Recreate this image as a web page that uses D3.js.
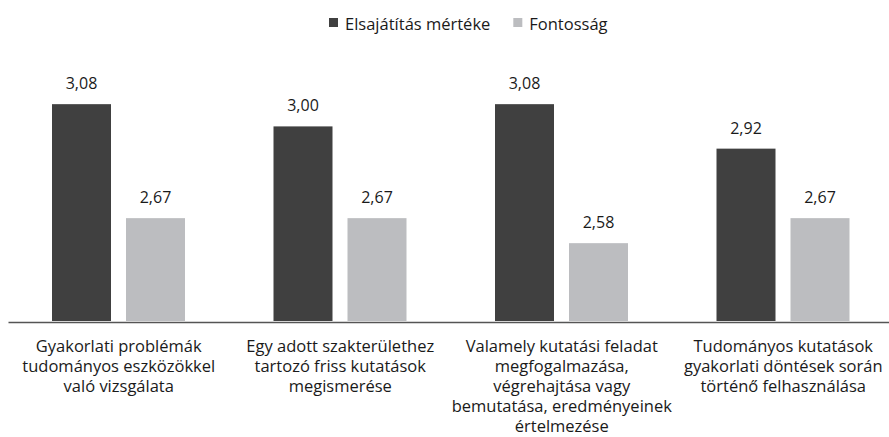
<!DOCTYPE html>
<html>
<head>
<meta charset="utf-8">
<script src="https://cdn.jsdelivr.net/npm/d3@7"></script>
<style>
  body { margin: 0; background: #fff; }
  svg text { font-family: "Open Sans", "Noto Sans", sans-serif; fill: #1a1a1a; }
</style>
</head>
<body>
<svg id="chart" width="889" height="437"></svg>
<script>
// Category labels, already split into lines as in the original.
var categories = [
  ["Gyakorlati problémák", "tudományos eszközökkel", "való vizsgálata"],
  ["Egy adott szakterülethez", "tartozó friss kutatások", "megismerése"],
  ["Valamely kutatási feladat", "megfogalmazása,", "végrehajtása vagy", "bemutatása, eredményeinek", "értelmezése"],
  ["Tudományos kutatások", "gyakorlati döntések során", "történő felhasználása"]
];
var seriesNames = ["Elsajátítás mértéke", "Fontosság"];
var mastery = [3.08, 3.00, 3.08, 2.92];
var importance = [2.67, 2.67, 2.58, 2.67];
var colors = ["#404040", "#bcbdc0"];

var svg = d3.select('#chart');

var huFormat = d3.formatLocale({decimal: ",", thousands: " ", grouping: [3], currency: ["", " Ft"]}).format(".2f");

/////////////////////////
// Scales
var x0 = d3.scaleBand()
    .domain(d3.range(categories.length))
    .range([8, 894]);

var x1 = d3.scaleBand()
    .domain([0, 1])
    .range([44, 177])
    .paddingInner(15 / 74);

var y = d3.scaleLinear()
    .domain([2.3, 3.3])
    .range([321, 43]);

var rows = categories.map(function(c, i) {
  return { idx: i, lines: c, values: [mastery[i], importance[i]] };
});

/////////////////////////
// Bars
var groups = svg.selectAll('g.group')
    .data(rows)
    .enter()
      .append('g')
        .attr('class', 'group')
        .attr('transform', function(d) { return 'translate(' + x0(d.idx) + ',0)'; });

var bars = groups.selectAll('g.bar')
    .data(function(d) { return d.values.map(function(v, s) { return { s: s, v: v }; }); })
    .enter()
      .append('g')
        .attr('class', 'bar');

bars.append('rect')
  .attr('x', function(d) { return x1(d.s); })
  .attr('width', x1.bandwidth())
  .attr('y', function(d) { return y(d.v); })
  .attr('height', function(d) { return y(2.3) - y(d.v); })
  .attr('fill', function(d) { return colors[d.s]; });

bars.append('text')
  .text(function(d) { return huFormat(d.v); })
  .attr('x', function(d) { return x1(d.s) + x1.bandwidth() / 2; })
  .attr('y', function(d) { return y(d.v) - 15; })
  .attr('text-anchor', 'middle')
  .attr('font-size', 16);

/////////////////////////
// Baseline (axis domain only)
var axis = svg.append('g')
    .attr('transform', 'translate(0,322)')
    .call(d3.axisBottom(x0).tickSize(0).tickSizeOuter(0).tickFormat(''));
axis.select('.domain')
  .attr('stroke', '#555')
  .attr('stroke-width', 1.5);

// Category labels, one tspan per line.
var catText = groups.append('text')
    .attr('text-anchor', 'middle')
    .attr('font-size', 16.5);
catText.selectAll('tspan')
  .data(function(d) { return d.lines; })
  .enter()
    .append('tspan')
      .attr('x', x0.bandwidth() / 2)
      .attr('y', function(d, i) { return 352 + i * 20; })
      .text(function(d) { return d; });

/////////////////////////
// Legend
var legend = svg.append('g').attr('transform', 'translate(329,0)');
var lx = 0;
seriesNames.forEach(function(name, i) {
  legend.append('rect')
    .attr('x', lx)
    .attr('y', 18)
    .attr('width', 9)
    .attr('height', 9)
    .attr('fill', colors[i]);
  var t = legend.append('text')
    .attr('x', lx + 16)
    .attr('y', 30)
    .attr('font-size', 16.5)
    .text(name);
  lx += 16 + t.node().getComputedTextLength() + 23;
});
</script>
</body>
</html>
